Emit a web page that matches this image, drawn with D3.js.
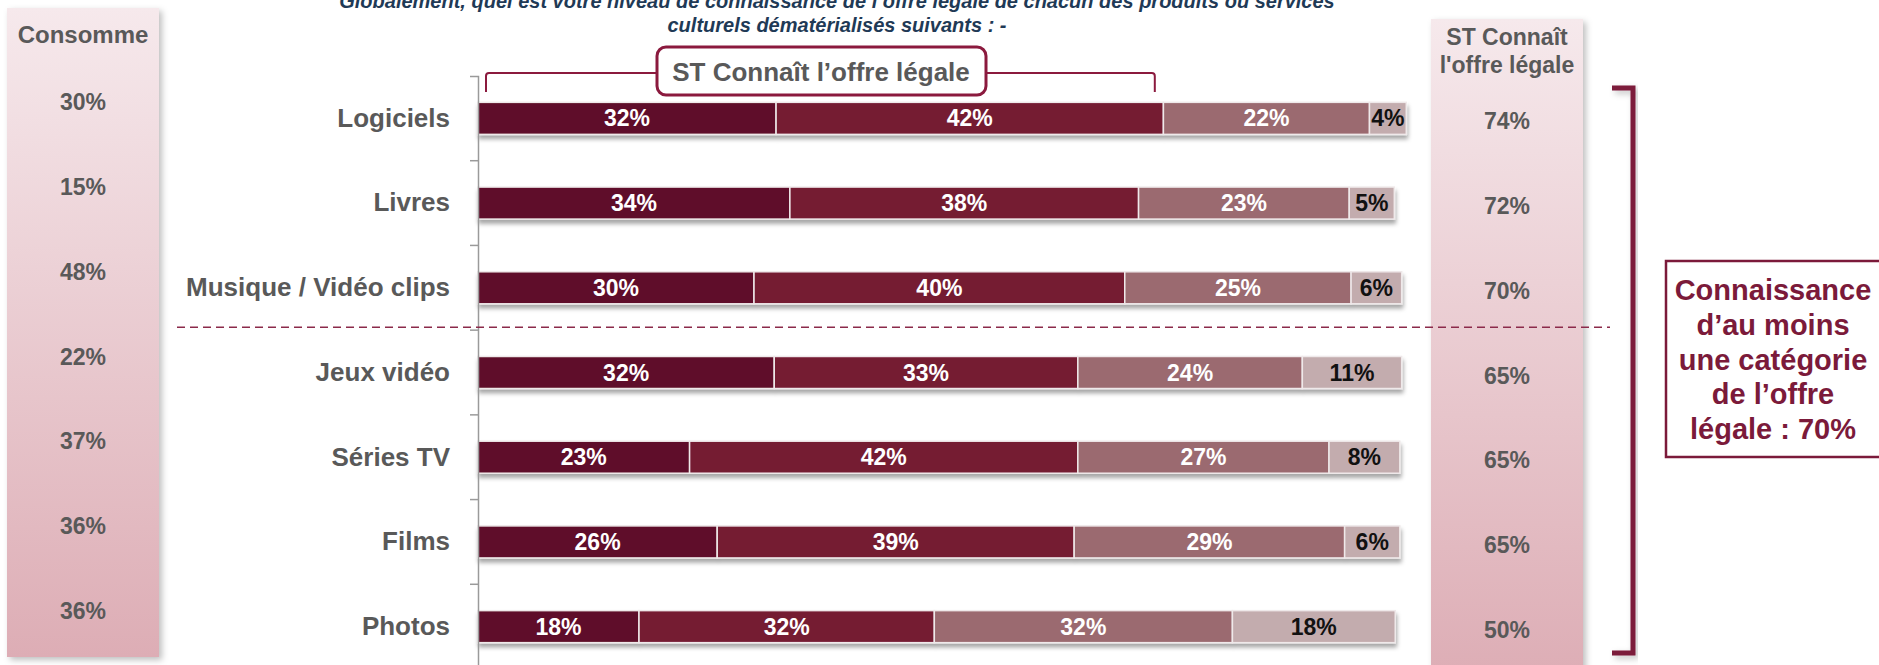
<!DOCTYPE html>
<html>
<head>
<meta charset="utf-8">
<script src="https://cdn.jsdelivr.net/npm/d3@7"></script>
<style>
  body { margin: 0; background: #fff; }
  svg { display: block; font-family: "Liberation Sans", Arial, sans-serif; font-weight: bold; }
</style>
</head>
<body>
<svg id="chart"></svg>
<script>
// data
let categories = ["Logiciels", "Livres", "Musique / Vidéo clips", "Jeux vidéo", "Séries TV", "Films", "Photos"];
let level1 = [32.4, 33.9, 30.0, 32.2, 23.0, 26.0, 17.5];
let level2 = [42.1, 37.9, 40.3, 33.0, 42.2, 38.8, 32.1];
let level3 = [22.4, 22.9, 24.6, 24.4, 27.3, 29.4, 32.4];
let level4 = [4.0, 4.9, 5.5, 10.8, 7.7, 6.0, 17.7];
let consomme = [30, 15, 48, 22, 37, 36, 36];
let stConnait = [74, 72, 70, 65, 65, 65, 50];
let titleLines = [
  "Globalement, quel est votre niveau de connaissance de l’offre légale de chacun des produits ou services",
  "culturels dématérialisés suivants : -"
];
let noteLines = ["Connaissance", "d’au moins", "une catégorie", "de l’offre", "légale : 70%"];

let barColors = ["#5f1129", "#751a33", "#9b6a70", "#c3acae"],
    labelColors = ["#fff", "#fff", "#fff", "#111"],
    grey = "#595959",
    maroon = "#7b1a3a";

let width = 1879, height = 665;

let svg = d3.select("#chart").attr("width", width).attr("height", height);

let defs = svg.append("defs");
let grad = defs.append("linearGradient").attr("id", "colGrad")
  .attr("x1", 0).attr("y1", 0).attr("x2", 0).attr("y2", 1);
grad.append("stop").attr("offset", "0%").attr("stop-color", "#f6e9ec");
grad.append("stop").attr("offset", "100%").attr("stop-color", "#ddadb5");

defs.append("filter").attr("id", "colShadow").attr("x", "-10%").attr("y", "-5%").attr("width", "130%").attr("height", "115%")
  .append("feDropShadow").attr("dx", 3).attr("dy", 3).attr("stdDeviation", 3)
  .attr("flood-color", "#000").attr("flood-opacity", 0.25);
defs.append("filter").attr("id", "barShadow").attr("x", "-5%").attr("y", "-20%").attr("width", "110%").attr("height", "160%")
  .append("feDropShadow").attr("dx", 1).attr("dy", 4).attr("stdDeviation", 2)
  .attr("flood-color", "#000").attr("flood-opacity", 0.35);

let x = d3.scaleLinear().domain([0, 100]).range([478, 1398]),
    y = d3.scaleBand().domain(categories).range([76, 669]).paddingInner(0.622).paddingOuter(0.311);

let mid = function(c) { return y(c) + y.bandwidth() / 2; };

// side columns
svg.append("rect").attr("x", 7).attr("y", 8).attr("width", 152).attr("height", 649)
  .attr("fill", "url(#colGrad)").attr("filter", "url(#colShadow)");
svg.append("rect").attr("x", 1431).attr("y", 19).attr("width", 152).attr("height", 660)
  .attr("fill", "url(#colGrad)").attr("filter", "url(#colShadow)");

svg.append("text").attr("x", 83).attr("y", 43).attr("text-anchor", "middle")
  .style("font-size", "24px").attr("fill", grey).text("Consomme");
svg.append("g").selectAll("text").data(consomme).enter().append("text")
  .attr("x", 83).attr("y", function(d, i) { return mid(categories[i]) - 16; })
  .attr("dy", "0.35em").attr("text-anchor", "middle")
  .style("font-size", "23px").attr("fill", grey)
  .text(function(d) { return d + "%"; });

svg.append("text").attr("text-anchor", "middle").style("font-size", "23px").attr("fill", grey)
  .selectAll("tspan").data(["ST Connaît", "l'offre légale"]).enter().append("tspan")
  .attr("x", 1507).attr("y", function(d, i) { return 45 + i * 28; }).text(function(d) { return d; });
svg.append("g").selectAll("text").data(stConnait).enter().append("text")
  .attr("x", 1507).attr("y", function(d, i) { return mid(categories[i]) + 3; })
  .attr("dy", "0.35em").attr("text-anchor", "middle")
  .style("font-size", "23px").attr("fill", grey)
  .text(function(d) { return d + "%"; });

// title
svg.append("text").attr("text-anchor", "middle").style("font-size", "20px").style("font-style", "italic")
  .attr("fill", "#1f3a56")
  .selectAll("tspan").data(titleLines).enter().append("tspan")
  .attr("x", 837).attr("y", function(d, i) { return 8 + i * 24; }).text(function(d) { return d; });

// stacked bars
let rows = categories.map(function(c, i) {
  return {cat: c, l1: level1[i], l2: level2[i], l3: level3[i], l4: level4[i]};
});
let series = d3.stack().keys(["l1", "l2", "l3", "l4"])(rows);

let barG = svg.append("g");
barG.append("g").attr("filter", "url(#barShadow)")
  .selectAll("g").data(series).enter().append("g")
    .attr("fill", function(d, i) { return barColors[i]; })
  .selectAll("rect").data(function(d) { return d; }).enter().append("rect")
    .attr("x", function(d) { return x(d[0]); })
    .attr("y", function(d) { return y(d.data.cat); })
    .attr("width", function(d) { return x(d[1]) - x(d[0]); })
    .attr("height", y.bandwidth())
    .attr("stroke", "#efe9ea").attr("stroke-width", 1.5);

barG.append("g").selectAll("g").data(series).enter().append("g")
    .attr("fill", function(d, i) { return labelColors[i]; })
  .selectAll("text").data(function(d) { return d; }).enter().append("text")
    .attr("x", function(d) { return (x(d[0]) + x(d[1])) / 2; })
    .attr("y", function(d) { return mid(d.data.cat); })
    .attr("dy", "0.35em").attr("text-anchor", "middle")
    .style("font-size", "23px")
    .text(function(d) { return Math.round(d[1] - d[0]) + "%"; });

// axis
let yAxis = d3.axisLeft(y).tickSizeInner(0).tickSizeOuter(8).tickPadding(28);
let axisG = svg.append("g").attr("transform", "translate(" + x(0) + ",0)").call(yAxis);
axisG.select(".domain").attr("stroke", "#9a9a9a").attr("stroke-width", 1.5);
axisG.selectAll("text").style("font-size", "26px").style("font-family", "'Liberation Sans', Arial, sans-serif")
  .style("font-weight", "bold").attr("fill", grey);
axisG.selectAll(".gap").data(d3.range(1, categories.length)).enter().append("line")
  .attr("class", "gap")
  .attr("x1", -8).attr("x2", 0)
  .attr("y1", function(i) { return y.range()[0] + i * y.step(); })
  .attr("y2", function(i) { return y.range()[0] + i * y.step(); })
  .attr("stroke", "#9a9a9a").attr("stroke-width", 1.5);

// dashed separator between the two groups
let sepY = y(categories[3]) - (y.step() - y.bandwidth()) / 2 - 3;
svg.append("line").attr("x1", 177).attr("x2", 1610).attr("y1", sepY).attr("y2", sepY)
  .attr("stroke", "#8b2a4a").attr("stroke-width", 1.5).attr("stroke-dasharray", "8,5");

// "ST Connaît l'offre légale" bracket
let brY = 73, brLeft = x(0) + 8, brRight = x(stConnait[0]) - 4;
svg.append("path")
  .attr("d", "M" + brLeft + ",92V" + (brY + 3) + "Q" + brLeft + "," + brY + " " + (brLeft + 3) + "," + brY + "H657"
    + "M986," + brY + "H" + (brRight - 3) + "Q" + brRight + "," + brY + " " + brRight + "," + (brY + 3) + "V92")
  .attr("fill", "none").attr("stroke", "#8b1a3e").attr("stroke-width", 2);
svg.append("rect").attr("x", 657).attr("y", 47).attr("width", 329).attr("height", 48).attr("rx", 9)
  .attr("fill", "#fff").attr("stroke", "#8b1a3e").attr("stroke-width", 3);
svg.append("text").attr("x", 821).attr("y", 81).attr("text-anchor", "middle")
  .style("font-size", "26px").attr("fill", grey).text("ST Connaît l’offre légale");

// right bracket and note
svg.append("path").attr("d", "M1612,88H1633V653H1612")
  .attr("fill", "none").attr("stroke", maroon).attr("stroke-width", 5)
  .attr("filter", "url(#colShadow)");
svg.append("rect").attr("x", 1666).attr("y", 261).attr("width", 220).attr("height", 196)
  .attr("fill", "none").attr("stroke", maroon).attr("stroke-width", 2.5);
svg.append("text").attr("text-anchor", "middle").style("font-size", "29px").attr("fill", maroon)
  .selectAll("tspan").data(noteLines).enter().append("tspan")
  .attr("x", 1773).attr("y", function(d, i) { return 300 + i * 34.8; }).text(function(d) { return d; });
</script>
</body>
</html>
